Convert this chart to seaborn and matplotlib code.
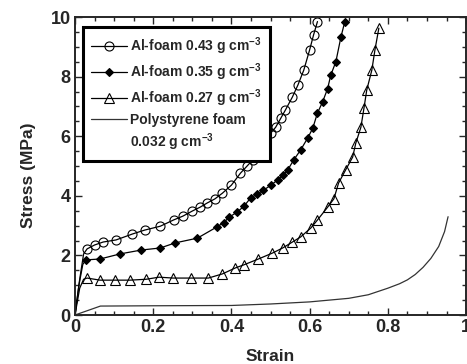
import matplotlib

matplotlib.use("Agg")
import matplotlib.pyplot as plt
import seaborn as sns
from matplotlib.lines import Line2D
from matplotlib.ticker import MultipleLocator

# stress-strain curves (strain, stress in MPa)
strain_043 = [0.0, 0.012, 0.022, 0.031, 0.05, 0.072, 0.105, 0.147, 0.178, 0.218,
              0.252, 0.276, 0.30, 0.32, 0.338, 0.358, 0.377, 0.40, 0.423, 0.44,
              0.454, 0.468, 0.48, 0.50, 0.513, 0.526, 0.538, 0.556, 0.57, 0.585,
              0.60, 0.61, 0.62]
stress_043 = [0.0, 1.2, 2.05, 2.22, 2.35, 2.45, 2.52, 2.72, 2.85, 2.98,
              3.19, 3.32, 3.49, 3.62, 3.76, 3.9, 4.09, 4.36, 4.76, 5.0,
              5.2, 5.5, 5.77, 6.1, 6.3, 6.6, 6.88, 7.32, 7.72, 8.22,
              8.9, 9.4, 9.85]

strain_035 = [0.0, 0.01, 0.02, 0.028, 0.064, 0.115, 0.169, 0.218, 0.256, 0.313,
              0.362, 0.38, 0.395, 0.415, 0.432, 0.449, 0.465, 0.482, 0.50, 0.518,
              0.532, 0.544, 0.559, 0.577, 0.595, 0.608, 0.62, 0.633, 0.646, 0.654,
              0.667, 0.68, 0.69]
stress_035 = [0.0, 1.0, 1.7, 1.85, 1.88, 2.05, 2.18, 2.25, 2.42, 2.58,
              2.95, 3.1, 3.29, 3.46, 3.65, 3.93, 4.05, 4.19, 4.35, 4.53,
              4.7, 4.87, 5.2, 5.54, 5.94, 6.27, 6.78, 7.15, 7.6, 8.05,
              8.5, 9.33, 9.85]

strain_027 = [0.0, 0.012, 0.022, 0.031, 0.064, 0.103, 0.141, 0.182, 0.215, 0.251,
              0.297, 0.341, 0.377, 0.41, 0.431, 0.469, 0.505, 0.531, 0.556, 0.577,
              0.603, 0.62, 0.646, 0.662, 0.674, 0.692, 0.71, 0.718, 0.731, 0.739,
              0.746, 0.759, 0.767, 0.777]
stress_027 = [0.0, 0.9, 1.2, 1.24, 1.17, 1.17, 1.17, 1.2, 1.27, 1.24,
              1.24, 1.24, 1.38, 1.58, 1.68, 1.88, 2.08, 2.25, 2.45, 2.62,
              2.92, 3.19, 3.62, 3.9, 4.43, 4.87, 5.3, 5.77, 6.3, 6.95,
              7.55, 8.22, 8.9, 9.63]

strain_ps = [0.0, 0.065, 0.2, 0.4, 0.5, 0.6, 0.7, 0.75, 0.8, 0.83,
             0.85, 0.87, 0.89, 0.91, 0.93, 0.945, 0.954]
stress_ps = [0.0, 0.3, 0.31, 0.32, 0.37, 0.44, 0.56, 0.68, 0.9, 1.05,
             1.18, 1.36, 1.6, 1.9, 2.3, 2.8, 3.3]

labels = ["Al-foam 0.43 g cm$^{-3}$", "Al-foam 0.35 g cm$^{-3}$",
          "Al-foam 0.27 g cm$^{-3}$", "Polystyrene foam", "0.032 g cm$^{-3}$"]

sns.set_style("ticks")
plt.rcParams["font.family"] = ["Liberation Sans", "DejaVu Sans"]
plt.rcParams["font.weight"] = "bold"
plt.rcParams["mathtext.default"] = "regular"

fig = plt.figure(figsize=(4.67, 3.64), dpi=100)
ax = fig.add_axes([0.1606, 0.1346, 0.8374, 0.8184])

common = dict(ax=ax, color="black", lw=0.9, estimator=None, sort=False,
              markeredgecolor="black", markeredgewidth=0.8, markevery=slice(3, None))
sns.lineplot(x=strain_043, y=stress_043, marker="o", markersize=6.5,
             markerfacecolor="none", label=labels[0], **common)
sns.lineplot(x=strain_035, y=stress_035, marker="D", markersize=4.5,
             markerfacecolor="black", label=labels[1], **common)
sns.lineplot(x=strain_027, y=stress_027, marker="^", markersize=6.5,
             markerfacecolor="none", label=labels[2], **common)
sns.lineplot(x=strain_ps, y=stress_ps, ax=ax, color="#333333", lw=0.9,
             estimator=None, sort=False, label=labels[3])

ax.set_xlim(0, 1)
ax.set_ylim(0, 10)
ax.xaxis.set_major_locator(MultipleLocator(0.2))
ax.xaxis.set_minor_locator(MultipleLocator(0.05))
ax.yaxis.set_major_locator(MultipleLocator(2))
ax.yaxis.set_minor_locator(MultipleLocator(0.5))
ax.set_xticks([0, 0.2, 0.4, 0.6, 0.8, 1.0], ["0", "0.2", "0.4", "0.6", "0.8", "1"])
ax.tick_params(which="both", direction="in", top=True, right=True, width=1)
ax.tick_params(which="major", length=5, labelsize=13, pad=3)
ax.tick_params(which="minor", length=3)
for s in ax.spines.values():
    s.set_linewidth(1.4)
ax.set_xlabel("Strain", fontsize=12.5, fontweight="bold", labelpad=9)
ax.set_ylabel("Stress (MPa)", fontsize=12.5, fontweight="bold")
ax.yaxis.set_label_coords(-0.10, 0.47)

handles, _ = ax.get_legend_handles_labels()
handles.append(Line2D([], [], color="none"))
leg = ax.legend(handles, labels, loc="upper left", bbox_to_anchor=(0.02, 0.966),
                borderaxespad=0, frameon=True, fancybox=False, framealpha=1,
                edgecolor="black", handlelength=2.6, handletextpad=0.2,
                labelspacing=0.3, borderpad=0.6, prop={"weight": "bold", "size": 10})
leg.get_frame().set_linewidth(2.2)

fig.savefig("out.png", dpi=100)
